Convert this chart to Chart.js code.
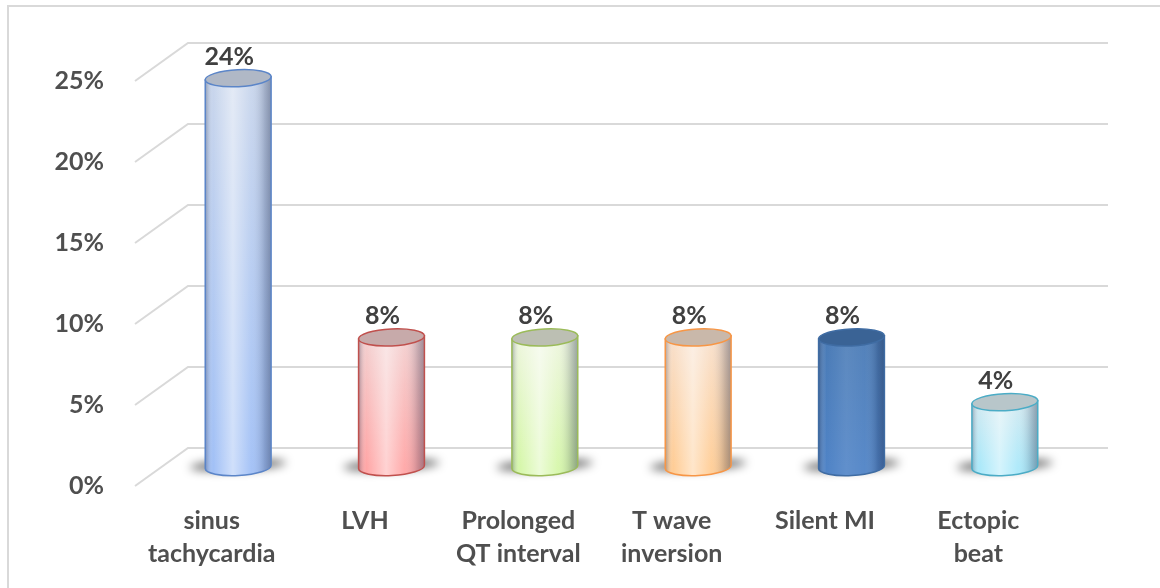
<!DOCTYPE html>
<html>
<head>
<meta charset="utf-8">
<script src="https://cdn.jsdelivr.net/npm/chart.js@4.4.1/dist/chart.umd.min.js"></script>
<style>
  html, body { margin: 0; padding: 0; background: #ffffff; }
  #wrap { width: 1160px; height: 588px; }
</style>
</head>
<body>
<div id="wrap"><canvas id="c" width="1160" height="588"></canvas></div>
<script>
// ---- data ----
const categories = [['sinus', 'tachycardia'], ['LVH'], ['Prolonged', 'QT interval'], ['T wave', 'inversion'], ['Silent MI'], ['Ectopic', 'beat']];
const values = [24, 8, 8, 8, 8, 4];
const yTickValues = [0, 5, 10, 15, 20, 25];
const dataLabels = ['24%', '8%', '8%', '8%', '8%', '4%'];

// ---- styles ----
const sideTop =    ['#c9d6ec', '#f3d0d0', '#eef6df', '#f8e0cc', '#4a7bb6', '#d3eaf1'];
const sideBottom = ['#a1c0f6', '#ffa6a6', '#d6f7aa', '#ffcd96', '#4f83c6', '#abe9fa'];
const outlines =   ['#5b85c8', '#c0504d', '#9bbb59', '#f79646', '#3f6ca3', '#4bacc6'];
const caps =       ['#b0b8c6', '#c7aaaa', '#bcbfb3', '#c9b8aa', '#3a6395', '#b8c6ca'];
const highlight =  [0.5, 0.5, 0.55, 0.5, 0.1, 0.5];
const textColor = '#4f4f4f';
const fontFamily = 'Lato, "Open Sans", sans-serif';
const depthDX = 53, depthDY = -38;

const depthPlugin = {
  id: 'depth',
  beforeDraw(chart) {
    const ctx = chart.ctx;
    ctx.save();
    ctx.fillStyle = '#ffffff';
    ctx.fillRect(0, 0, chart.width, chart.height);
    ctx.strokeStyle = '#d9d9d9';
    ctx.lineWidth = 2;
    ctx.beginPath();
    ctx.moveTo(8, chart.height + 2);
    ctx.lineTo(8, 6);
    ctx.lineTo(chart.width + 2, 6);
    ctx.stroke();
    ctx.restore();
  },
  beforeDatasetsDraw(chart) {
    const ctx = chart.ctx;
    const ys = chart.scales.y;
    const area = chart.chartArea;
    ctx.save();
    ctx.strokeStyle = '#d9d9d9';
    ctx.lineWidth = 2;
    yTickValues.forEach(v => {
      const yF = ys.getPixelForValue(v);
      ctx.beginPath();
      ctx.moveTo(area.left, yF);
      ctx.lineTo(area.left + depthDX, yF + depthDY);
      ctx.lineTo(area.right + depthDX, yF + depthDY);
      ctx.stroke();
    });
    ctx.restore();
  },
  afterDatasetsDraw(chart) {
    const ctx = chart.ctx;
    const meta = chart.getDatasetMeta(0);
    meta.data.forEach((bar, i) => {
      const cx = bar.x + depthDX / 2;
      const yTop = bar.y + depthDY / 2;
      const yBase = bar.base + depthDY / 2;
      const rx = bar.width / 2;
      const ry = 8.5;
      const rot = -0.05;

      // shadow
      ctx.save();
      ctx.filter = 'blur(5px)';
      ctx.fillStyle = 'rgba(0,0,0,0.6)';
      ctx.beginPath();
      ctx.ellipse(cx, yBase - 2, rx + 15, ry * 0.6, rot, 0, Math.PI * 2);
      ctx.fill();
      ctx.restore();

      // side
      const sidePath = () => {
        ctx.beginPath();
        ctx.moveTo(cx - rx * Math.cos(rot), yTop - rx * Math.sin(rot));
        ctx.ellipse(cx, yBase, rx, ry, rot, Math.PI, 0, true);
        ctx.lineTo(cx + rx * Math.cos(rot), yTop + rx * Math.sin(rot));
        ctx.closePath();
      };
      ctx.save();
      const vg = ctx.createLinearGradient(0, yTop, 0, yBase);
      vg.addColorStop(0, sideTop[i]);
      vg.addColorStop(1, sideBottom[i]);
      sidePath();
      ctx.fillStyle = vg;
      ctx.fill();
      const h = highlight[i];
      const hg = ctx.createLinearGradient(cx - rx, 0, cx + rx, 0);
      hg.addColorStop(0, 'rgba(30,40,70,0.35)');
      hg.addColorStop(0.12, 'rgba(255,255,255,0)');
      hg.addColorStop(0.42, 'rgba(255,255,255,' + h + ')');
      hg.addColorStop(0.7, 'rgba(255,255,255,0.05)');
      hg.addColorStop(0.9, 'rgba(30,40,70,0.22)');
      hg.addColorStop(1, 'rgba(30,40,70,0.4)');
      ctx.fillStyle = hg;
      ctx.fill();
      ctx.strokeStyle = outlines[i];
      ctx.lineWidth = 1.5;
      ctx.stroke();

      // cap
      ctx.beginPath();
      ctx.ellipse(cx, yTop, rx, ry, rot, 0, Math.PI * 2);
      ctx.fillStyle = caps[i];
      ctx.fill();
      ctx.strokeStyle = outlines[i];
      ctx.lineWidth = 1.5;
      ctx.stroke();
      ctx.restore();

      // data label
      ctx.save();
      ctx.fillStyle = '#404040';
      ctx.font = 'bold 25px ' + fontFamily;
      ctx.textAlign = 'center';
      ctx.textBaseline = 'middle';
      ctx.fillText(dataLabels[i], cx - 9, yTop - 21);
      ctx.restore();
    });
  }
};

new Chart(document.getElementById('c'), {
  type: 'bar',
  data: {
    labels: categories,
    datasets: [{
      data: values,
      backgroundColor: 'rgba(0,0,0,0)',
      borderWidth: 0,
      barPercentage: 1,
      categoryPercentage: 0.43
    }]
  },
  options: {
    responsive: false,
    animation: false,
    devicePixelRatio: 1,
    layout: { padding: { top: 81, right: 105, left: 0, bottom: 0 } },
    plugins: { legend: { display: false }, tooltip: { enabled: false } },
    scales: {
      x: {
        grid: { display: false, drawTicks: false },
        border: { display: false },
        afterFit(s) { s.height = 102; },
        ticks: {
          color: textColor,
          padding: 19,
          maxRotation: 0,
          autoSkip: false,
          font: { family: fontFamily, size: 25, weight: 'bold', lineHeight: 1.3 }
        }
      },
      y: {
        min: 0,
        max: 25,
        grid: { display: false, drawTicks: false },
        border: { display: false },
        afterFit(s) { s.width = 135; },
        afterBuildTicks(s) { s.ticks = yTickValues.map(v => ({ value: v })); },
        ticks: {
          color: textColor,
          padding: 31,
          font: { family: fontFamily, size: 25, weight: 'bold' },
          callback: v => v + '%'
        }
      }
    }
  },
  plugins: [depthPlugin]
});
</script>
</body>
</html>
